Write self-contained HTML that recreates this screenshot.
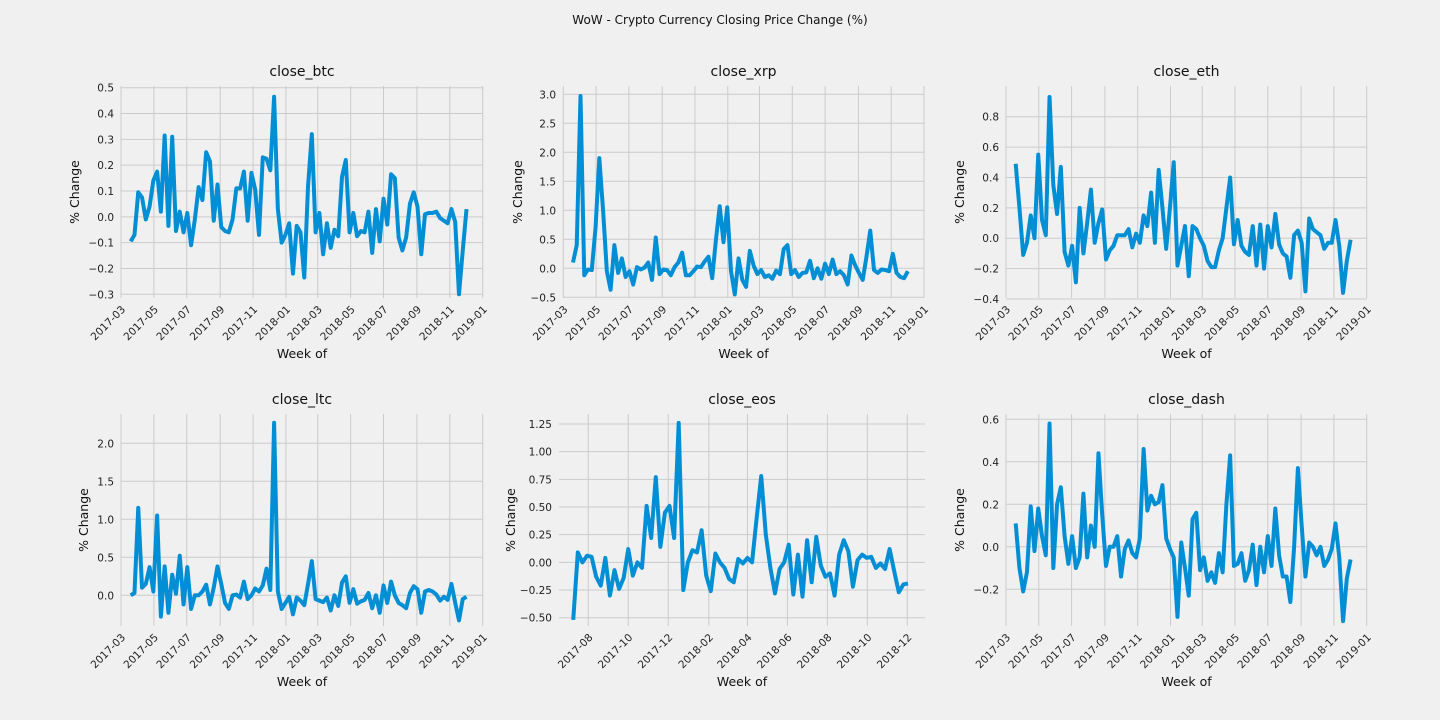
<!DOCTYPE html>
<html><head><meta charset="utf-8"><style>
html,body{margin:0;padding:0;background:#f0f0f0;}
svg{display:block;font-family:"DejaVu Sans","Liberation Sans",sans-serif;}
</style></head><body>
<svg id="fig" width="1440" height="720" viewBox="0 0 1440 720">
<rect width="1440" height="720" fill="#f0f0f0"/>
<text x="720" y="24" text-anchor="middle" font-size="12" fill="#111">WoW - Crypto Currency Closing Price Change (%)</text>
</svg>
<script>
const btcValues=[-0.095,-0.07,0.095,0.075,-0.01,0.04,0.14,0.175,0.02,0.315,-0.035,0.31,-0.055,0.02,-0.06,0.015,-0.11,-0.01,0.115,0.065,0.25,0.215,-0.015,0.125,-0.04,-0.055,-0.06,-0.01,0.11,0.11,0.175,-0.015,0.17,0.105,-0.07,0.23,0.225,0.18,0.465,0.03,-0.1,-0.07,-0.025,-0.22,-0.035,-0.06,-0.235,0.12,0.32,-0.06,0.015,-0.145,-0.025,-0.12,-0.05,-0.075,0.155,0.22,-0.06,0.015,-0.075,-0.055,-0.06,0.02,-0.14,0.03,-0.095,0.07,-0.03,0.165,0.15,-0.08,-0.13,-0.08,0.05,0.095,0.04,-0.145,0.01,0.015,0.015,0.02,-0.005,-0.015,-0.025,0.03,-0.02,-0.3,-0.13,0.03];
const xrpValues=[0.1,0.4,2.97,-0.12,-0.02,-0.03,0.7,1.9,1.0,-0.05,-0.37,0.4,-0.08,0.17,-0.15,-0.05,-0.28,0.02,-0.02,0.01,0.1,-0.2,0.53,-0.1,-0.02,-0.03,-0.12,0.02,0.1,0.27,-0.12,-0.12,-0.05,0.03,0.02,0.12,0.2,-0.17,0.5,1.07,0.45,1.05,-0.05,-0.45,0.17,-0.2,-0.32,0.3,0.05,-0.1,-0.03,-0.15,-0.12,-0.18,-0.04,-0.1,0.33,0.4,-0.1,-0.03,-0.15,-0.08,-0.07,0.13,-0.17,0.0,-0.18,0.08,-0.1,0.15,-0.1,-0.05,-0.12,-0.28,0.22,0.05,-0.08,-0.2,0.2,0.65,-0.03,-0.08,-0.02,-0.03,-0.05,0.25,-0.08,-0.15,-0.17,-0.05];
const ethValues=[0.49,0.2,-0.11,-0.03,0.15,0.0,0.55,0.12,0.02,0.93,0.35,0.16,0.47,-0.09,-0.18,-0.05,-0.29,0.2,-0.1,0.1,0.32,-0.03,0.1,0.19,-0.14,-0.08,-0.05,0.02,0.02,0.02,0.06,-0.06,0.03,-0.03,0.15,0.08,0.3,-0.03,0.45,0.2,-0.07,0.2,0.5,-0.18,-0.05,0.08,-0.25,0.08,0.06,0.0,-0.05,-0.15,-0.19,-0.19,-0.08,0.0,0.2,0.4,-0.04,0.12,-0.05,-0.09,-0.11,0.08,-0.18,0.09,-0.2,0.08,-0.06,0.16,-0.04,-0.1,-0.12,-0.26,0.02,0.05,-0.03,-0.35,0.13,0.06,0.04,0.02,-0.07,-0.03,-0.03,0.12,-0.05,-0.36,-0.15,-0.01];
const ltcValues=[0.0,0.03,1.15,0.1,0.15,0.37,0.05,1.05,-0.28,0.38,-0.23,0.27,0.02,0.52,-0.12,0.37,-0.18,0.0,0.0,0.05,0.14,-0.12,0.1,0.38,0.15,-0.1,-0.18,0.0,0.01,-0.03,0.18,-0.05,0.0,0.09,0.05,0.13,0.35,0.07,2.27,0.05,-0.18,-0.1,-0.02,-0.25,-0.03,-0.07,-0.13,0.15,0.45,-0.05,-0.07,-0.09,-0.03,-0.2,0.0,-0.14,0.17,0.25,-0.1,0.08,-0.11,-0.08,-0.06,0.03,-0.17,0.0,-0.23,0.13,-0.1,0.18,0.0,-0.1,-0.13,-0.17,0.03,0.12,0.08,-0.23,0.05,0.07,0.05,0.01,-0.07,-0.02,-0.06,0.15,-0.1,-0.33,-0.05,-0.02];
const eosValues=[-0.52,0.09,0.0,0.06,0.05,-0.13,-0.21,0.04,-0.3,-0.07,-0.24,-0.14,0.12,-0.12,0.0,-0.05,0.51,0.22,0.77,0.14,0.45,0.51,0.22,1.26,-0.25,0.0,0.11,0.09,0.29,-0.12,-0.26,0.08,0.0,-0.05,-0.15,-0.18,0.03,-0.01,0.04,0.0,0.4,0.78,0.25,-0.05,-0.28,-0.06,0.0,0.16,-0.29,0.07,-0.31,0.2,-0.18,0.23,-0.03,-0.13,-0.1,-0.3,0.07,0.2,0.1,-0.22,0.02,0.07,0.04,0.05,-0.05,-0.01,-0.06,0.12,-0.08,-0.27,-0.2,-0.19];
const dashValues=[0.11,-0.1,-0.21,-0.12,0.19,-0.02,0.18,0.05,-0.04,0.58,-0.1,0.2,0.28,0.05,-0.08,0.05,-0.1,-0.05,0.25,-0.05,0.1,0.0,0.44,0.15,-0.09,0.0,0.0,0.05,-0.14,-0.01,0.03,-0.03,-0.05,0.04,0.46,0.17,0.24,0.2,0.21,0.29,0.04,-0.01,-0.05,-0.33,0.02,-0.1,-0.23,0.13,0.16,-0.11,-0.05,-0.16,-0.12,-0.17,-0.03,-0.12,0.2,0.43,-0.09,-0.08,-0.03,-0.16,-0.11,0.01,-0.18,0.0,-0.12,0.05,-0.09,0.18,-0.04,-0.14,-0.14,-0.26,0.0,0.37,0.1,-0.14,0.02,0.0,-0.04,0.0,-0.09,-0.06,-0.01,0.11,-0.05,-0.35,-0.15,-0.06];
const startDates=["2017-03-19","2017-03-19","2017-03-19","2017-03-19","2017-07-09","2017-03-19"];
const panelNames=["close_btc","close_xrp","close_eth","close_ltc","close_eos","close_dash"];
const longTicks=["2017-03","2017-05","2017-07","2017-09","2017-11","2018-01","2018-03","2018-05","2018-07","2018-09","2018-11","2019-01"];
const eosTicks=["2017-08","2017-10","2017-12","2018-02","2018-04","2018-06","2018-08","2018-10","2018-12"];
const btcY=[-0.3,-0.2,-0.1,0.0,0.1,0.2,0.3,0.4,0.5];
const xrpY=[-0.5,0.0,0.5,1.0,1.5,2.0,2.5,3.0];
const ethY=[-0.4,-0.2,0.0,0.2,0.4,0.6,0.8];
const ltcY=[0.0,0.5,1.0,1.5,2.0];
const eosY=[-0.5,-0.25,0,0.25,0.5,0.75,1.0,1.25];
const dashY=[-0.2,0.0,0.2,0.4,0.6];

const NS="http://www.w3.org/2000/svg";
const svg=document.getElementById('fig');
function mk(tag,attrs,parent){const e=document.createElementNS(NS,tag);for(const k in attrs)e.setAttribute(k,attrs[k]);(parent||svg).appendChild(e);return e;}
function dnum(s){return Date.parse(s.length===7?s+"-01":s)/86400000;}

const layouts=[
 {box:[121,86,483,298],xa:["2017-03",121],xb:["2019-01",482.7],ya:[0.5,87.7],yb:[-0.3,294.3],ylab:75,vals:btcValues,yt:btcY,dec:1,xt:longTicks},
 {box:[563,86,924,298],xa:["2017-03",563.3],xb:["2019-01",924],ya:[3.0,94.3],yb:[-0.5,297.3],ylab:518,vals:xrpValues,yt:xrpY,dec:1,xt:longTicks},
 {box:[1006,86,1367,298],xa:["2017-03",1006],xb:["2019-01",1366.7],ya:[0.8,116.7],yb:[-0.4,299],ylab:960,vals:ethValues,yt:ethY,dec:1,xt:longTicks},
 {box:[121,414,483,626],xa:["2017-03",121],xb:["2019-01",482.7],ya:[2.0,443.3],yb:[0.0,595.3],ylab:84,vals:ltcValues,yt:ltcY,dec:1,xt:longTicks},
 {box:[559,414,925,626],xa:["2017-08",588.3],xb:["2018-12",907.3],ya:[1.25,424],yb:[-0.5,617.7],ylab:511,vals:eosValues,yt:eosY,dec:2,xt:eosTicks},
 {box:[1006,414,1367,626],xa:["2017-03",1006],xb:["2019-01",1366.7],ya:[0.6,419.3],yb:[-0.2,589.3],ylab:960,vals:dashValues,yt:dashY,dec:1,xt:longTicks}
];

layouts.forEach((L,pi)=>{
  const g=mk('g',{});
  
  
  const [x0,y0,x1,y1]=L.box;
  const da=dnum(L.xa[0]),db=dnum(L.xb[0]);
  const X=d=>L.xa[1]+(d-da)*(L.xb[1]-L.xa[1])/(db-da);
  const Y=v=>L.ya[1]+(v-L.ya[0])*(L.yb[1]-L.ya[1])/(L.yb[0]-L.ya[0]);
  L.yt.forEach(v=>{
    const y=Y(v);
    const ln=mk('line',{x1:x0,x2:x1,y1:y,y2:y,stroke:'#cbcbcb','stroke-width':1},g);
    
    
    const t=mk('text',{x:x0-7,y:y+4,'text-anchor':'end','font-size':10.5,fill:'#222'},g);
    
    
    t.textContent=(v<0?'\u2212':'')+Math.abs(v).toFixed(L.dec);
  });
  L.xt.forEach(s=>{
    const x=X(dnum(s));
    const ln=mk('line',{x1:x,x2:x,y1:y0,y2:y1,stroke:'#cbcbcb','stroke-width':1},g);
    
    
    const tx=x+5,ty=y1+12;
    const t=mk('text',{x:tx,y:ty,'text-anchor':'end','font-size':10.5,fill:'#222',transform:`rotate(-45 ${tx} ${ty})`},g);
    
    
    t.textContent=s;
  });
  const s0=dnum(startDates[pi]);
  const pts=L.vals.map((v,i)=>X(s0+7*i).toFixed(2)+','+Y(v).toFixed(2)).join(' ');
  const pl=mk('polyline',{points:pts,fill:'none',stroke:'#008fd5','stroke-width':4,'stroke-linejoin':'round','stroke-linecap':'butt'},g);
  
  
  const cx=(x0+x1)/2;
  const ti=mk('text',{x:cx,y:y0-10,'text-anchor':'middle','font-size':14,fill:'#111'},g);
  
  
  ti.textContent=panelNames[pi];
  const xl=mk('text',{x:cx,y:y1+60,'text-anchor':'middle','font-size':12.5,fill:'#111'},g);
  
  
  xl.textContent='Week of';
  const cy=(y0+y1)/2;
  const yl=mk('text',{x:L.ylab+4,y:cy,'text-anchor':'middle','font-size':12.5,fill:'#111',transform:`rotate(-90 ${L.ylab+4} ${cy})`},g);
  
  
  yl.textContent='% Change';
});
</script>
</body></html>
